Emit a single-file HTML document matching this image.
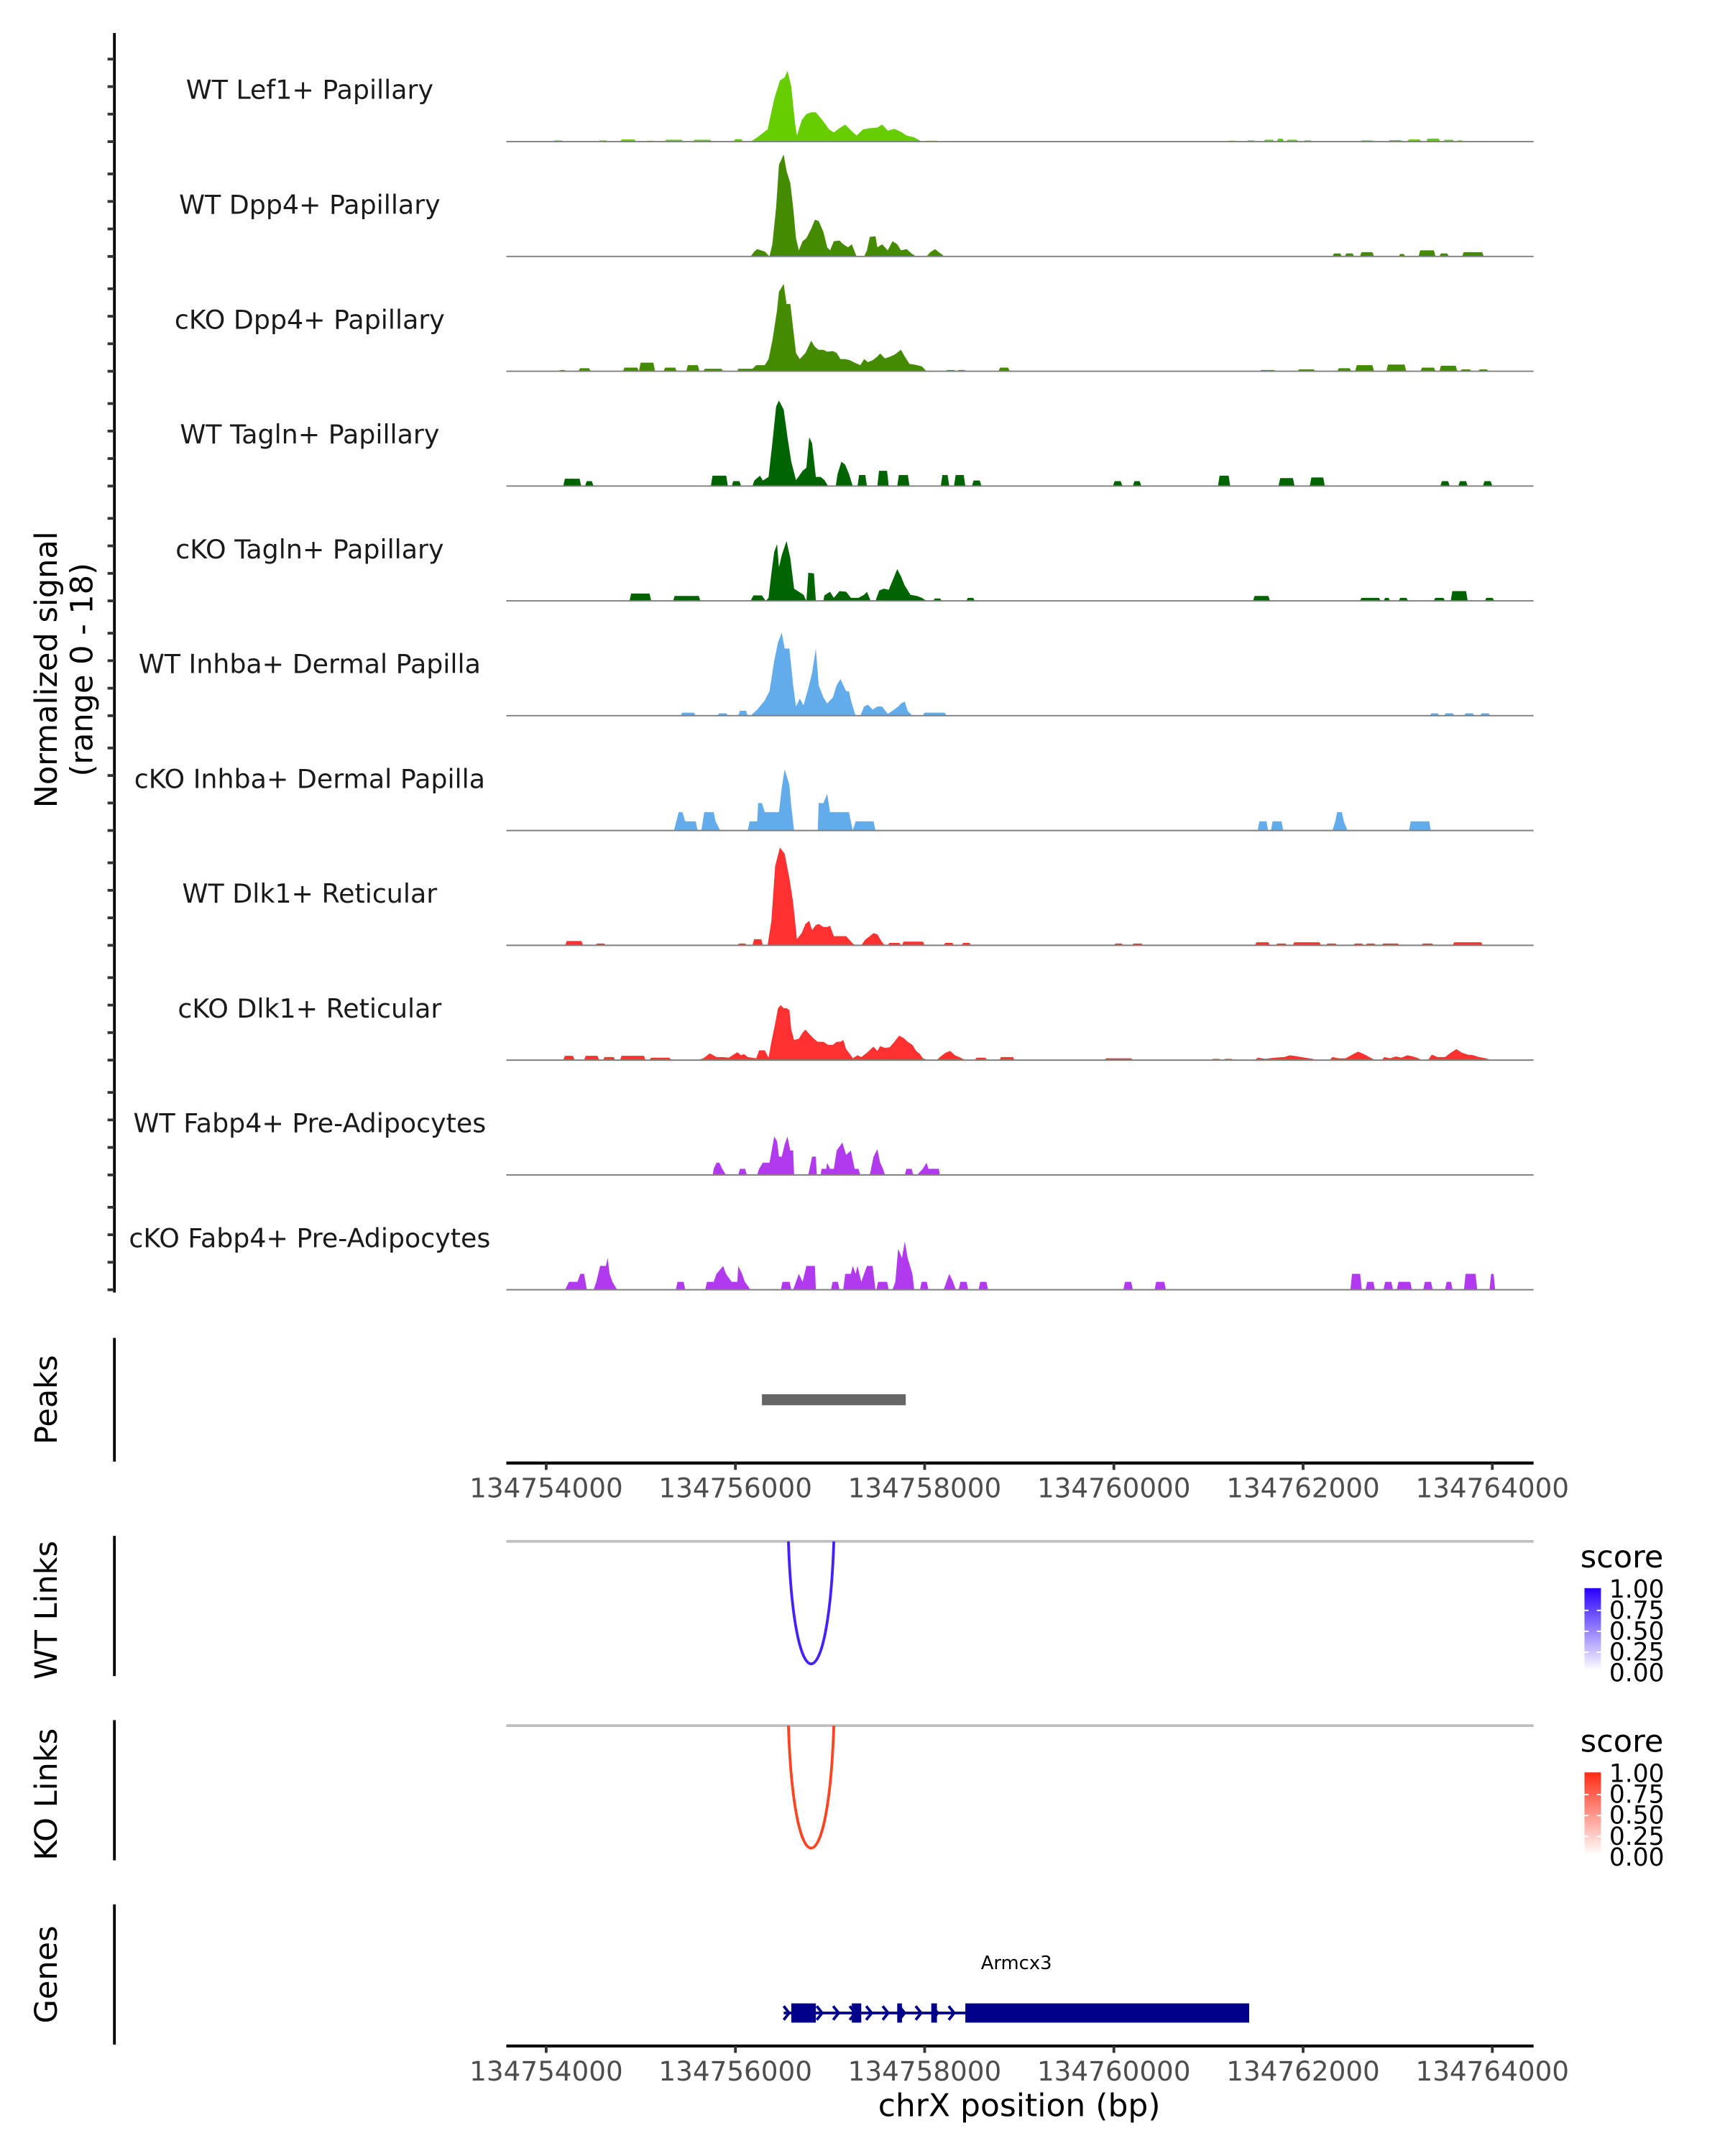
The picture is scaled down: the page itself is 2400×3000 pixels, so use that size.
<!DOCTYPE html>
<html><head><meta charset="utf-8"><style>
html,body{margin:0;padding:0;background:#fff}
svg{display:block}
text{font-family:"DejaVu Sans","Liberation Sans",sans-serif}
</style></head><body>
<svg id="chart" xmlns="http://www.w3.org/2000/svg" width="2400" height="3000" viewBox="0 0 1254 1568">
<rect width="1254" height="1568" fill="#fff"/>
<g id="tracks"></g>
<g id="frame"></g>
</svg>
<script>
// region: positions are kb offsets from chrX:134,754,000
const regionStartBp = 134754000;
const xTickKb = [0, 2, 4, 6, 8, 10];
const xTickLabels = ["134754000","134756000","134758000","134760000","134762000","134764000"];
const signalMax = 18;
const trackNames = ["WT Lef1+ Papillary","WT Dpp4+ Papillary","cKO Dpp4+ Papillary","WT Tagln+ Papillary","cKO Tagln+ Papillary","WT Inhba+ Dermal Papilla","cKO Inhba+ Dermal Papilla","WT Dlk1+ Reticular","cKO Dlk1+ Reticular","WT Fabp4+ Pre-Adipocytes","cKO Fabp4+ Pre-Adipocytes"];
const trackColors = ["#66cd00","#458b00","#458b00","#006400","#006400","#63acec","#63acec","#ff3030","#ff3030","#b23aee","#b23aee"];

// signal profiles: [kbOffset, signal]
const lef1Pts = [[2.16,0],[2.23,0.7],[2.34,2],[2.41,7],[2.47,10],[2.52,10.5],[2.55,11.6],[2.59,9],[2.63,3],[2.65,1],[2.70,3.5],[2.75,4.5],[2.80,4.8],[2.85,4.8],[2.92,3.5],[2.99,2],[3.04,1.5],[3.10,2.2],[3.16,2.8],[3.21,2],[3.28,1],[3.35,2],[3.42,2.2],[3.50,2.3],[3.55,2.8],[3.61,1.8],[3.68,2.1],[3.75,1.6],[3.81,1],[3.89,0.7],[3.97,0]];
const lef1Blocks = [[0.07,0.18,0.2],[0.55,0.65,0.2],[0.78,0.95,0.35],[1.05,1.15,0.15],[1.25,1.45,0.3],[1.55,1.75,0.3],[1.98,2.08,0.4],[4.0,4.15,0.15],[4.3,4.4,0.1],[6.8,6.9,0.1],[7.2,7.3,0.15],[7.4,7.5,0.2],[7.58,7.7,0.3],[7.72,7.8,0.5],[7.82,7.95,0.3],[8.0,8.1,0.2],[8.6,8.75,0.2],[8.9,9.05,0.25],[9.1,9.25,0.35],[9.3,9.45,0.5],[9.48,9.6,0.3],[9.62,9.7,0.2],[9.85,9.95,0.1]];
const dpp4WtPts = [[2.16,0],[2.20,0.8],[2.23,1.2],[2.31,0.8],[2.36,0],[2.39,2],[2.43,8],[2.46,15],[2.51,16.7],[2.54,14],[2.58,12],[2.61,8],[2.64,3],[2.67,1],[2.71,2.5],[2.75,3],[2.80,4.5],[2.84,6],[2.88,5.8],[2.93,4],[2.97,1.5],[3.00,1],[3.04,2.5],[3.10,2.6],[3.14,2],[3.19,1.5],[3.23,2],[3.28,0],[3.36,0],[3.39,1],[3.42,3.2],[3.48,3.3],[3.50,1.5],[3.55,2],[3.61,1],[3.66,2.5],[3.71,2],[3.75,1],[3.81,1.2],[3.86,0.5],[3.91,0],[4.02,0],[4.06,0.7],[4.11,1.2],[4.15,0.7],[4.21,0]];
const dpp4WtBlocks = [[8.31,8.41,0.5],[8.44,8.54,0.5],[8.60,8.75,0.7],[9.01,9.08,0.4],[9.22,9.40,1.0],[9.44,9.54,0.5],[9.68,9.91,0.7]];
const dpp4KoPts = [[2.02,0],[2.03,0.4],[2.18,0.4],[2.22,1],[2.31,1],[2.35,2],[2.39,5],[2.44,10],[2.46,13],[2.51,14.3],[2.54,11],[2.58,11],[2.61,7],[2.64,3],[2.68,2],[2.74,3],[2.80,5],[2.84,4],[2.88,3.5],[2.93,3.5],[2.97,3.2],[3.03,3.3],[3.07,3],[3.11,2],[3.16,2],[3.21,1.8],[3.26,1.4],[3.32,1],[3.36,2],[3.40,1.5],[3.45,1.8],[3.50,2.4],[3.53,2.9],[3.58,2.1],[3.62,2.3],[3.68,2.7],[3.75,3.5],[3.79,2.4],[3.84,1.2],[3.89,1.1],[3.97,0.8],[4.02,0]];
const dpp4KoBlocks = [[0.13,0.21,0.2],[0.34,0.47,0.5],[0.81,0.98,0.6],[0.98,1.15,1.4],[1.24,1.38,0.6],[1.48,1.62,1.0],[1.66,1.87,0.4],[4.22,4.33,0.2],[4.34,4.44,0.2],[4.78,4.90,0.6],[7.54,7.71,0.2],[7.94,8.13,0.3],[8.36,8.51,0.5],[8.55,8.75,1.0],[8.88,9.09,1.1],[9.24,9.40,0.6],[9.44,9.63,0.9],[9.66,9.78,0.3],[9.85,9.96,0.3]];
const taglnWtPts = [[2.18,0],[2.20,0.9],[2.26,1.7],[2.29,0.9],[2.35,1.5],[2.39,7],[2.43,13],[2.46,14],[2.51,12.5],[2.55,8],[2.59,4],[2.64,1],[2.67,1.6],[2.71,2.5],[2.75,3],[2.78,8],[2.81,7],[2.85,1.5],[2.90,1.5],[2.94,1],[2.98,0],[3.06,0],[3.08,2],[3.12,4],[3.16,3.5],[3.20,2],[3.24,0]];
const taglnWtBlocks = [[0.18,0.37,1.2],[0.41,0.50,0.8],[1.74,1.92,1.7],[1.96,2.06,0.8],[3.29,3.39,1.8],[3.50,3.62,2.5],[3.71,3.84,1.8],[4.17,4.26,1.8],[4.31,4.43,1.8],[4.50,4.60,0.9],[5.99,6.09,0.8],[6.20,6.29,0.8],[7.10,7.23,1.7],[7.74,7.91,1.3],[8.07,8.23,1.4],[9.45,9.55,0.8],[9.64,9.74,0.8],[9.90,10.00,0.8]];
const taglnKoPts = [[2.16,0],[2.19,0.9],[2.28,0.9],[2.32,0],[2.35,0.5],[2.38,4.5],[2.41,8],[2.44,9.3],[2.46,5.5],[2.49,7.5],[2.54,9.8],[2.58,7],[2.62,2],[2.67,1.5],[2.72,1],[2.75,0],[2.77,4.6],[2.83,4.5],[2.85,0],[2.93,0],[2.94,0.9],[3.00,1.5],[3.04,0.5],[3.10,1.6],[3.17,1.5],[3.22,0.5],[3.30,0.5],[3.36,1],[3.39,1.5],[3.43,0],[3.48,0],[3.52,1.7],[3.57,2],[3.62,1.8],[3.66,3.3],[3.71,5.2],[3.75,4],[3.79,2.5],[3.85,1],[3.92,0.8],[3.97,0.5],[4.02,0]];
const taglnKoBlocks = [[0.88,1.11,1.2],[1.34,1.63,0.8],[4.09,4.18,0.4],[4.44,4.53,0.5],[7.47,7.65,0.8],[8.60,8.82,0.5],[8.85,8.92,0.5],[9.01,9.11,0.5],[9.38,9.50,0.5],[9.56,9.74,1.6],[9.92,10.02,0.5]];
const inhbaWtPts = [[2.16,0],[2.23,1],[2.31,2.5],[2.36,4],[2.41,9],[2.45,12],[2.49,13.6],[2.52,11],[2.57,11],[2.61,5],[2.64,1.5],[2.68,2.8],[2.72,1.7],[2.77,4.5],[2.81,7],[2.85,11],[2.88,5],[2.93,3],[2.97,2],[3.03,3],[3.07,5],[3.11,6],[3.17,4],[3.20,4],[3.23,2],[3.27,0],[3.32,0],[3.36,1.5],[3.40,1.8],[3.45,1],[3.50,1.5],[3.55,1.5],[3.61,0.3],[3.66,0.8],[3.72,1.5],[3.75,2],[3.79,2.3],[3.82,0.8],[3.87,0]];
const inhbaWtBlocks = [[1.42,1.58,0.5],[1.81,1.92,0.4],[2.03,2.13,0.8],[3.98,4.23,0.5],[9.34,9.44,0.4],[9.49,9.60,0.4],[9.70,9.81,0.4],[9.87,9.98,0.4]];
const inhbaKoPts = [[1.35,0],[1.40,3],[1.44,3],[1.47,1.5],[1.58,1.5],[1.60,0],[1.64,0],[1.67,3],[1.77,3],[1.79,1.5],[1.84,0],[2.13,0],[2.15,1.5],[2.23,1.5],[2.24,4.5],[2.28,4.5],[2.31,3],[2.46,3],[2.49,7],[2.52,10],[2.57,7.5],[2.59,4],[2.62,0],[2.87,0],[2.88,4.5],[2.93,4.5],[2.97,6],[3.00,3],[3.20,3],[3.22,1.5],[3.24,0],[3.27,1.5],[3.46,1.5],[3.48,0],[8.31,0],[8.34,1.5],[8.36,3],[8.41,3],[8.43,1.5],[8.47,0]];
const inhbaKoBlocks = [[7.52,7.63,1.5],[7.66,7.79,1.5],[9.12,9.35,1.5]];
const dlk1WtPts = [[2.34,0],[2.38,4],[2.42,13],[2.47,16],[2.52,15],[2.57,11],[2.61,7],[2.65,1],[2.70,2],[2.74,3.5],[2.78,4],[2.81,2.5],[2.85,3.3],[2.88,3.5],[2.93,3],[2.97,3],[3.00,3.2],[3.04,1.5],[3.10,1.5],[3.17,1.5],[3.24,0.3],[3.27,0],[3.33,0],[3.37,0.9],[3.42,1.5],[3.46,2],[3.50,1.8],[3.55,0.5],[3.58,0]];
const dlk1WtBlocks = [[0.20,0.39,0.7],[0.52,0.63,0.3],[2.02,2.12,0.3],[2.18,2.29,1.0],[3.61,3.75,0.4],[3.76,4.00,0.6],[4.20,4.31,0.4],[4.39,4.49,0.4],[6.00,6.10,0.3],[6.19,6.31,0.3],[7.49,7.65,0.5],[7.71,7.83,0.3],[7.89,8.19,0.5],[8.24,8.36,0.3],[8.53,8.64,0.3],[8.66,8.77,0.3],[8.83,9.02,0.3],[9.25,9.38,0.3],[9.58,9.90,0.5]];
const dlk1KoPts = [[1.60,0],[1.66,0.3],[1.73,1.1],[1.80,0.5],[1.87,0.5],[1.93,0.4],[2.02,1.3],[2.06,0.8],[2.09,1.0],[2.13,0.5],[2.22,0.3],[2.25,1.6],[2.31,1.6],[2.35,0.4],[2.38,3],[2.42,6],[2.45,8.5],[2.48,9],[2.51,8.5],[2.54,8.5],[2.57,8.2],[2.59,5],[2.62,3.3],[2.67,3.5],[2.71,4.5],[2.74,5],[2.78,4.3],[2.83,3.5],[2.87,3],[2.93,3],[2.98,2.5],[3.03,2.5],[3.07,3],[3.11,3],[3.14,3.3],[3.17,1.8],[3.22,0.8],[3.24,0.3],[3.29,0.8],[3.33,0.5],[3.39,1.2],[3.43,1.8],[3.46,2.2],[3.50,1.5],[3.53,2.3],[3.58,2],[3.63,2.1],[3.68,3],[3.73,4],[3.78,3.6],[3.82,3],[3.87,2.5],[3.91,1.5],[3.95,1],[3.98,0.3],[4.04,0],[4.13,0],[4.16,0.5],[4.22,1.2],[4.27,1.5],[4.32,0.8],[4.38,0.4],[4.43,0],[7.49,0],[7.52,0.4],[7.60,0.2],[7.70,0.4],[7.80,0.5],[7.86,0.8],[7.94,0.6],[8.02,0.4],[8.10,0.2],[8.14,0],[8.28,0],[8.31,0.5],[8.38,0.3],[8.45,0.3],[8.52,0.9],[8.58,1.4],[8.64,1.0],[8.70,0.5],[8.76,0],[8.83,0],[8.86,0.5],[8.92,0.3],[8.98,0.6],[9.04,0.4],[9.10,0.8],[9.16,0.6],[9.22,0.3],[9.25,0],[9.32,0],[9.36,0.9],[9.42,0.5],[9.50,0.5],[9.56,1.2],[9.62,1.8],[9.68,1.2],[9.74,0.9],[9.80,0.8],[9.86,0.5],[9.93,0.3],[9.99,0]];
const dlk1KoBlocks = [[0.18,0.30,0.7],[0.40,0.56,0.7],[0.60,0.73,0.5],[0.78,1.05,0.7],[1.09,1.32,0.4],[4.53,4.66,0.4],[4.79,4.95,0.5],[5.90,6.20,0.3],[7.03,7.13,0.2],[7.16,7.26,0.2]];
const fabp4WtPts = [[1.76,0],[1.77,1],[1.80,2],[1.83,2],[1.86,1],[1.90,0],[2.23,0],[2.25,1],[2.29,2],[2.36,2],[2.41,6.3],[2.44,5.5],[2.46,3],[2.49,3],[2.52,5],[2.55,6.3],[2.58,4],[2.61,4],[2.62,0],[2.77,0],[2.81,3],[2.85,3],[2.86,0],[2.90,0],[2.91,1],[2.96,1],[2.97,2],[3.00,1],[3.04,1],[3.07,4],[3.13,5.3],[3.17,3.3],[3.22,4],[3.26,1],[3.30,1],[3.32,0],[3.42,0],[3.46,3],[3.50,4.2],[3.53,2],[3.56,1],[3.58,0],[3.92,0],[3.98,1],[4.02,2],[4.04,1],[4.15,1],[4.16,0]];
const fabp4WtBlocks = [[2.03,2.12,1.0],[3.79,3.88,1.0]];
const fabp4KoPts = [[0.20,0],[0.24,1.3],[0.33,1.3],[0.36,2.6],[0.40,2.6],[0.43,0],[0.50,0],[0.53,1.3],[0.57,3.9],[0.63,3.9],[0.65,5.2],[0.67,2.6],[0.70,1.3],[0.75,0],[1.68,0],[1.70,1.3],[1.77,1.3],[1.80,2.6],[1.87,3.9],[1.90,2.6],[1.96,1.3],[2.02,1.3],[2.03,3.9],[2.07,2.6],[2.10,1.3],[2.16,0],[2.61,0],[2.64,1.3],[2.67,2.6],[2.71,1.3],[2.75,3.9],[2.84,3.9],[2.85,0],[3.14,0],[3.16,2.6],[3.22,2.6],[3.24,3.9],[3.27,2.6],[3.29,3.9],[3.33,1.3],[3.36,2.6],[3.39,3.9],[3.45,3.9],[3.48,0],[3.66,0],[3.69,1.3],[3.72,6.7],[3.76,5.2],[3.79,7.9],[3.82,5.2],[3.87,2.6],[3.89,0],[4.20,0],[4.23,1.3],[4.26,2.6],[4.30,1.3],[4.33,0]];
const fabp4KoBlocks = [[1.37,1.47,1.3],[2.48,2.59,1.3],[3.01,3.10,1.3],[3.49,3.62,1.3],[3.95,4.04,1.3],[4.36,4.46,1.3],[4.57,4.67,1.3],[6.10,6.20,1.3],[6.43,6.55,1.3],[8.50,8.62,2.6],[8.66,8.76,1.3],[8.85,8.95,1.3],[8.99,9.15,1.3],[9.27,9.37,1.3],[9.50,9.58,1.3],[9.70,9.84,2.6],[9.97,10.03,2.6]];

const trackPts = [lef1Pts,dpp4WtPts,dpp4KoPts,taglnWtPts,taglnKoPts,inhbaWtPts,inhbaKoPts,dlk1WtPts,dlk1KoPts,fabp4WtPts,fabp4KoPts];
const trackBlocks = [lef1Blocks,dpp4WtBlocks,dpp4KoBlocks,taglnWtBlocks,taglnKoBlocks,inhbaWtBlocks,inhbaKoBlocks,dlk1WtBlocks,dlk1KoBlocks,fabp4WtBlocks,fabp4KoBlocks];

// peaks, links, gene (kb offsets)
const peakRanges = [[2.28,3.80]];
const wtLinks = [[2.56,3.04,1.0]];
const koLinks = [[2.56,3.04,1.0]];
const geneName = "Armcx3";
const geneSpan = [2.51, 7.43];
const geneExons = [[2.59,2.85],[3.23,3.33],[3.71,3.76],[4.07,4.13],[4.43,7.43]];
const legendTicks = ["1.00","0.75","0.50","0.25","0.00"];

// layout
const X0 = 368, X1 = 1115;
function xScale(kb){ return 397 + kb * 68.8; }
const firstBase = 103, trackStep = 83.5, trackH = 80;
function yScale(s, i){ return firstBase + i*trackStep - s/signalMax*trackH; }

const NS = "http://www.w3.org/2000/svg";
function mk(tag, attrs, parent){
  const e = document.createElementNS(NS, tag);
  for (const k in attrs) e.setAttribute(k, attrs[k]);
  parent.appendChild(e); return e;
}
const svg = document.getElementById('chart');
const gT = document.getElementById('tracks');
const gF = document.getElementById('frame');

trackNames.forEach((name, i) => {
  const base = yScale(0, i);
  const g = mk('g', {}, gT);
  
  
  const pts = trackPts[i];
  let d = 'M' + xScale(pts[0][0]).toFixed(2) + ',' + base;
  pts.forEach(p => { d += 'L' + xScale(p[0]).toFixed(2) + ',' + yScale(p[1], i).toFixed(2); });
  d += 'L' + xScale(pts[pts.length-1][0]).toFixed(2) + ',' + base + 'Z';
  const area = mk('path', {d: d, fill: trackColors[i]}, g);
  
  
  trackBlocks[i].forEach(b => {
    const xa = xScale(b[0]), xb = xScale(b[1]), yt = yScale(b[2], i);
    const blk = mk('path', {d: `M${xa},${base}L${xa+1.2},${yt}L${xb-1.2},${yt}L${xb},${base}Z`, fill: trackColors[i]}, g);
    
    
  });
  const bl = mk('line', {x1: X0, x2: X1, y1: base, y2: base, stroke: '#7f7f7f', 'stroke-width': 1}, g);
  
  
  const lab = mk('text', {x: 225, y: base - 31, 'text-anchor': 'middle', 'font-size': 19, fill: '#1a1a1a'}, g);
  lab.textContent = name;
  
  
});

const axL = mk('line', {x1: 83, x2: 83, y1: 24, y2: 940, stroke: '#000', 'stroke-width': 2}, gF);


for (let i = 0; i < trackNames.length; i++) {
  for (let k = 0; k < 4; k++) {
    const y = yScale(k*4.5, i);
    const t = mk('line', {x1: 78, x2: 83, y1: y, y2: y, stroke: '#333', 'stroke-width': 2}, gF);
    
    
  }
}
function vText(txt, x, y, size, name){
  const t = mk('text', {x: x, y: y, 'text-anchor': 'middle', 'font-size': size, fill: '#000', transform: `rotate(-90 ${x} ${y})`}, gF);
  t.textContent = txt;
  
  
}
vText('Normalized signal', 41, 487, 22.5, 'y-axis-title');
vText('(range 0 - 18)', 67, 487, 22.5, 'y-axis-subtitle');

vText('Peaks', 41, 1018, 22.5, 'peaks-title');
const axP = mk('line', {x1: 83, x2: 83, y1: 973, y2: 1063, stroke: '#000', 'stroke-width': 2}, gF);


peakRanges.forEach(r => {
  const pr = mk('rect', {x: xScale(r[0]), y: 1014, width: xScale(r[1]) - xScale(r[0]), height: 8, fill: '#666'}, gF);
  
  
});
function xAxis(y, name){
  const g = mk('g', {}, gF);
  
  
  mk('line', {x1: X0, x2: X1, y1: y, y2: y, stroke: '#000', 'stroke-width': 2.2}, g);
  xTickKb.forEach((kb, j) => {
    const x = xScale(kb);
    const tk = mk('line', {x1: x, x2: x, y1: y, y2: y + 5, stroke: '#333', 'stroke-width': 2}, g);
    
    
    const tl = mk('text', {x: x, y: y + 25, 'text-anchor': 'middle', 'font-size': 19.5, fill: '#4d4d4d'}, g);
    tl.textContent = xTickLabels[j];
    
    
  });
}
xAxis(1064, 'peaks-x-axis');

function linkPanel(links, top, label, col, colLight, gradId){
  vText(label, 41, top + 50, 22.5, label.toLowerCase().replace(' ','-') + '-title');
  const ax = mk('line', {x1: 83, x2: 83, y1: top - 4, y2: top + 98, stroke: '#000', 'stroke-width': 2}, gF);
  
  
  const gl = mk('line', {x1: X0, x2: X1, y1: top, y2: top, stroke: '#bebebe', 'stroke-width': 2}, gF);
  
  
  links.forEach(L => {
    const xa = xScale(L[0]), xb = xScale(L[1]), depth = 95 * L[2];
    const p = mk('path', {d: `M${xa},${top}C${xa+ (xb-xa)*0.12},${top+depth*1.25} ${xb-(xb-xa)*0.12},${top+depth*1.25} ${xb},${top}`, fill: 'none', stroke: col, 'stroke-width': 2}, gF);
    
    
  });
  const defs = mk('defs', {}, svg);
  const lg = mk('linearGradient', {id: gradId, x1: 0, y1: 1, x2: 0, y2: 0}, defs);
  mk('stop', {offset: '0', 'stop-color': '#ffffff'}, lg);
  mk('stop', {offset: '1', 'stop-color': colLight}, lg);
  const st = mk('text', {x: 1149, y: top + 19, 'font-size': 22.5, fill: '#000'}, gF);
  st.textContent = 'score';
  
  
  const bar = mk('rect', {x: 1152, y: top + 34, width: 12, height: 60, fill: `url(#${gradId})`}, gF);
  
  
  legendTicks.forEach((lt, j) => {
    const y = top + 35 + j * 15.2;
    if (j > 0 && j < 4) mk('line', {x1: 1152, x2: 1155, y1: y, y2: y, stroke: '#fff', 'stroke-width': 1}, gF);
    if (j > 0 && j < 4) mk('line', {x1: 1161, x2: 1164, y1: y, y2: y, stroke: '#fff', 'stroke-width': 1}, gF);
    const tt = mk('text', {x: 1170, y: y + 6, 'font-size': 18, fill: '#000'}, gF);
    tt.textContent = lt;
    
    
  });
}
linkPanel(wtLinks, 1121, 'WT Links', '#4422ff', '#2a00ff', 'gradWT');
linkPanel(koLinks, 1255, 'KO Links', '#ff4422', '#ff2a14', 'gradKO');

vText('Genes', 41, 1436, 22.5, 'genes-title');
const axG = mk('line', {x1: 83, x2: 83, y1: 1385, y2: 1487, stroke: '#000', 'stroke-width': 2}, gF);


const gGene = mk('g', {}, gF);


const gy = 1464;
mk('line', {x1: xScale(geneSpan[0]), x2: xScale(geneSpan[1]), y1: gy, y2: gy, stroke: '#00008b', 'stroke-width': 2}, gGene);
for (let x = xScale(geneSpan[0]) + 2; x < xScale(geneExons[4][0]); x += 12) {
  mk('path', {d: `M${x-2},${gy-5}L${x+2},${gy}L${x-2},${gy+5}`, fill: 'none', stroke: '#00008b', 'stroke-width': 2}, gGene);
}
geneExons.forEach(e => {
  const ex = mk('rect', {x: xScale(e[0]), y: gy - 7, width: xScale(e[1]) - xScale(e[0]), height: 14, fill: '#00008b'}, gGene);
  
  
});
const gn = mk('text', {x: (xScale(geneSpan[0]) + xScale(geneSpan[1]))/2, y: 1432, 'text-anchor': 'middle', 'font-size': 13.5, fill: '#000'}, gGene);
gn.textContent = geneName;


xAxis(1488, 'genes-x-axis');
const xt = mk('text', {x: 741, y: 1539, 'text-anchor': 'middle', 'font-size': 23, fill: '#000'}, gF);
xt.textContent = 'chrX position (bp)';


</script>
</body></html>
